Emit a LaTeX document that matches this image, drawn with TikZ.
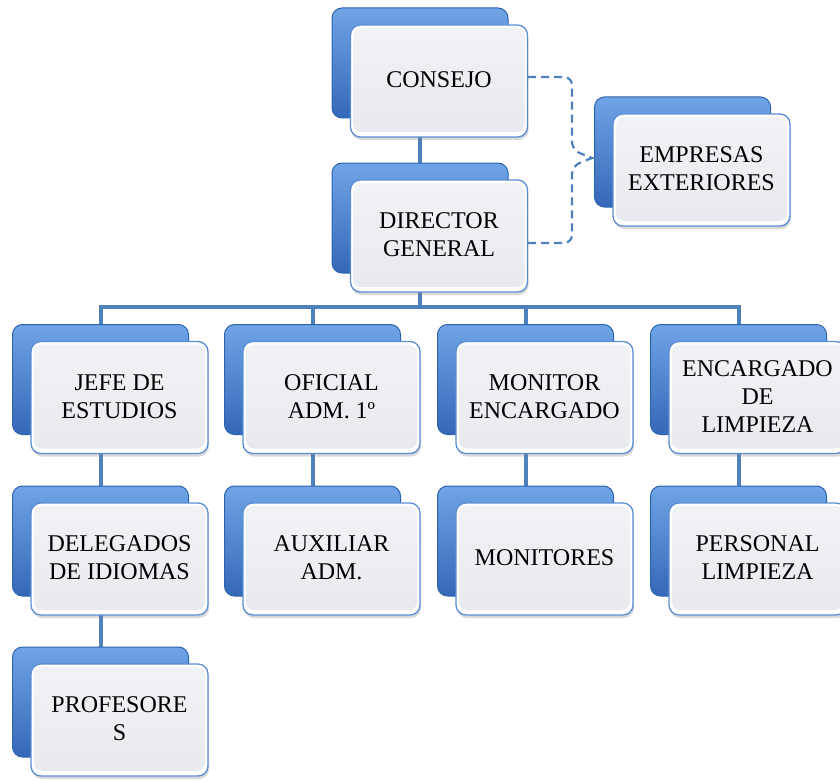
\documentclass[tikz,border=0pt]{standalone}
\usepackage{fontspec}
\setmainfont{Liberation Serif}
\usetikzlibrary{shadows,backgrounds,calc}
\definecolor{linkblue}{HTML}{4F81BD}
\definecolor{backtop}{HTML}{6FA4E6}
\definecolor{backmid}{HTML}{3F7BCD}
\definecolor{backbot}{HTML}{3468B8}
\definecolor{backedge}{HTML}{2E63AE}
\definecolor{frontedge}{HTML}{5B8DD4}
\definecolor{frontfill}{HTML}{E8EAEF}
\tikzset{
 backbox/.style={rectangle, rounded corners=10pt, minimum width=176pt, minimum height=110pt,
   top color=backtop, middle color=backmid, bottom color=backbot, draw=backedge, line width=1pt, inner sep=0pt},
 frontbox/.style={rectangle, rounded corners=10pt, minimum width=177pt, minimum height=112pt,
   fill=white, draw=frontedge, line width=1.3pt, inner sep=0pt,
   drop shadow={shadow xshift=1pt, shadow yshift=-3pt, opacity=0.3}},
 innerbox/.style={rectangle, rounded corners=8pt, minimum width=171pt, minimum height=104pt,
   top color=frontfill!60!white, bottom color=frontfill, inner sep=0pt, align=center,
   font=\fontsize{24}{28}\selectfont},
 link/.style={draw=linkblue, line width=4pt},
 dashlink/.style={draw=linkblue, line width=2.2pt, dash pattern=on 8pt off 5pt},
}
\newcommand\orgunit[4]{%
 \node[backbox] (#1-b) at (#2-19,#3-18) {};
 \node[frontbox] (#1) at (#2,#3) {};
 \node[innerbox] (#1-t) at ($(#1)+(0,-1)$) {#4};
}
\begin{document}
\begin{tikzpicture}[x=1pt,y=-1pt]
\useasboundingbox (0,0) rectangle (840,781);
\orgunit{cons}{439}{81}{CONSEJO}
\orgunit{dir}{439}{236}{DIRECTOR\\GENERAL}
\orgunit{emp}{701.5}{170}{EMPRESAS\\EXTERIORES}
\orgunit{jefe}{119.5}{397.5}{JEFE DE\\ESTUDIOS}
\orgunit{ofi}{331.5}{397.5}{OFICIAL\\ADM. 1º}
\orgunit{mon}{544.5}{397.5}{MONITOR\\ENCARGADO}
\orgunit{enc}{757.5}{397.5}{ENCARGADO\\DE\\LIMPIEZA}
\orgunit{dele}{119.5}{559}{DELEGADOS\\DE IDIOMAS}
\orgunit{aux}{331.5}{559}{AUXILIAR\\ADM.}
\orgunit{mons}{544.5}{559}{MONITORES}
\orgunit{pers}{757.5}{559}{PERSONAL\\LIMPIEZA}
\orgunit{prof}{119.5}{720}{PROFESORE\\S}
\coordinate (busL) at (100.5,307);
\begin{scope}[on background layer]
 \draw[link] (cons-b.south) -- (dir-b.north);
 \draw[link] (dir-b.south) -- (dir-b.south |- busL);
 \draw[link] (jefe-b.north) -- (jefe-b.north |- busL) -| (enc-b.north);
 \draw[link] (ofi-b.north) -- (ofi-b.north |- busL);
 \draw[link] (mon-b.north) -- (mon-b.north |- busL);
 \draw[link] (jefe-b.south) -- (dele-b.north);
 \draw[link] (dele-b.south) -- (prof-b.north);
 \draw[link] (ofi-b.south) -- (aux-b.north);
 \draw[link] (mon-b.south) -- (mons-b.north);
 \draw[link] (enc-b.south) -- (pers-b.north);
\end{scope}
\coordinate (mj) at (592,158);
\draw[dashlink, rounded corners=8pt] ($(cons.east)+(0,-4)$) -| (572,150) -- (mj);
\draw[dashlink, rounded corners=8pt] ($(dir.east)+(0,7)$) -| (572,166) -- (mj);
\draw[dashlink] (mj) -- ($(mj -| emp.west)+(5,0)$);
\end{tikzpicture}
\end{document}
